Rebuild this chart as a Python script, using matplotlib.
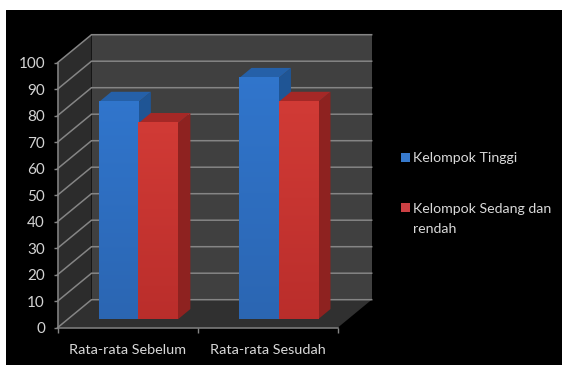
import matplotlib
matplotlib.use('Agg')
import matplotlib.pyplot as plt
from matplotlib.patches import Polygon, Rectangle
import numpy as np

W, H = 562, 365

categories = ['Rata-rata Sebelum', 'Rata-rata Sesudah']
series_names = ['Kelompok Tinggi', 'Kelompok Sedang dan\nrendah']
kelompok_tinggi = [82, 91]
kelompok_sedang = [74, 82]
y_ticks = list(range(0, 101, 10))

# oblique 3d look: how far the back wall sits from the front plane, in axis units
DEPTH_X = 34 / 140.1
DEPTH_Y = 28 / 2.65
BAR_W = 0.282
BAR_Z0, BAR_Z1 = 0.30, 0.665

plt.rcParams['font.family'] = ['Lato', 'DejaVu Sans']

fig = plt.figure(figsize=(W / 100, H / 100), dpi=100, facecolor='white')


def box(x0, y0, x1, y1):
    # pixel box, y measured from the top of the image
    return [x0 / W, 1 - y1 / H, (x1 - x0) / W, (y1 - y0) / H]


bg = fig.add_axes([6 / W, 0, 1 - 6 / W, 1 - 10 / H], facecolor='black')
bg.axis('off')
bg.add_patch(Rectangle((0, 0), 1, 1, transform=bg.transAxes, color='black'))

ax = fig.add_axes(box(57.5, 62.7, 337.7, 327.7))
ax.patch.set_alpha(0)


def oblique(x, y, z):
    return (x + z * DEPTH_X, y + z * DEPTH_Y)


def quad(pts, color, zorder):
    ax.add_patch(Polygon([oblique(*p) for p in pts], closed=True, facecolor=color,
                         edgecolor='none', zorder=zorder, clip_on=False))


n = len(categories)
# walls and floor
quad([(0, 0, 1), (n, 0, 1), (n, 100, 1), (0, 100, 1)], '#404040', 1)
quad([(0, 0, 0), (0, 0, 1), (0, 100, 1), (0, 100, 0)], '#2c2c2c', 1)
quad([(0, 0, 0), (n, 0, 0), (n, 0, 1), (0, 0, 1)], '#303030', 1)

GRID = '#858585'
for t in y_ticks:
    xs, ys = zip(oblique(0, t, 0), oblique(0, t, 1), oblique(n, t, 1))
    ax.plot(xs, ys, color=GRID, lw=1.1, zorder=2, clip_on=False, solid_joinstyle='miter')


def gradient_face(x0, x1, top, c_top, c_bot, z):
    g = np.linspace(0, 1, 64).reshape(-1, 1, 1)
    img = (1 - g) * np.array(c_top).reshape(1, 1, 3) + g * np.array(c_bot).reshape(1, 1, 3)
    ox, oy = oblique(x0, 0, z)
    ex, ey = oblique(x1, top, z)
    ax.imshow(img, extent=[ox, ex, oy, ey], aspect='auto', zorder=6, interpolation='bilinear',
              clip_on=False, origin='upper')


def bar3d(x0, val, front_top, front_bot, side, top, order):
    x1 = x0 + BAR_W
    z0, z1 = BAR_Z0, BAR_Z1
    quad([(x1, 0, z0), (x1, 0, z1), (x1, val, z1), (x1, val, z0)], side, 4 + order)
    quad([(x0, val, z0), (x1, val, z0), (x1, val, z1), (x0, val, z1)], top, 4 + order)
    gradient_face(x0, x1, val, front_top, front_bot, z0)


BLUE = dict(front_top=(0.19, 0.46, 0.80), front_bot=(0.17, 0.40, 0.70), side='#1f5595', top='#2560a8')
RED = dict(front_top=(0.82, 0.23, 0.21), front_bot=(0.73, 0.18, 0.17), side='#8e2220', top='#a52826')

for i in range(n):
    left = i + 0.5 + 0.005 - BAR_W
    bar3d(left, kelompok_tinggi[i], order=0, **BLUE)
    bar3d(left + BAR_W, kelompok_sedang[i], order=1, **RED)

ax.set_xlim(0, n)
ax.set_ylim(0, 100)

for s in ['top', 'right']:
    ax.spines[s].set_visible(False)
for s in ['left', 'bottom']:
    ax.spines[s].set_color(GRID)
    ax.spines[s].set_linewidth(1.1)
    ax.spines[s].set_zorder(3)

ax.set_yticks(y_ticks)
ax.set_xticks(range(n + 1))
ax.set_xticklabels([])
ax.set_xticks([i + 0.5 for i in range(n)], minor=True)
ax.set_xticklabels(categories, minor=True)
ax.tick_params(axis='x', which='minor', length=0, pad=11.5, labelsize=10.4, colors='#d9d9d9')
ax.tick_params(axis='x', which='major', length=3.6, width=1.0, color=GRID, direction='out')
ax.tick_params(axis='y', length=3, width=1.0, color=GRID, pad=6, labelsize=11, labelcolor='#d4d4d4')

# legend, wrapped entry keeps its swatch next to the first line
LEGEND_TEXT = '#d9d9d9'
legend_rows = [(157, '#3679cc'), (207.7, '#cb4043')]
for (yc, col), name in zip(legend_rows, series_names):
    fig.add_artist(Rectangle((401 / W, 1 - (yc + 4.5) / H), 9 / W, 9 / H,
                             transform=fig.transFigure, facecolor=col, edgecolor='none'))
    fig.text(412.7 / W, 1 - (yc - 5) / H, name, color=LEGEND_TEXT, fontsize=10.2,
             va='top', ha='left', linespacing=1.85)

fig.savefig('out.png', dpi=100, facecolor=fig.get_facecolor())
